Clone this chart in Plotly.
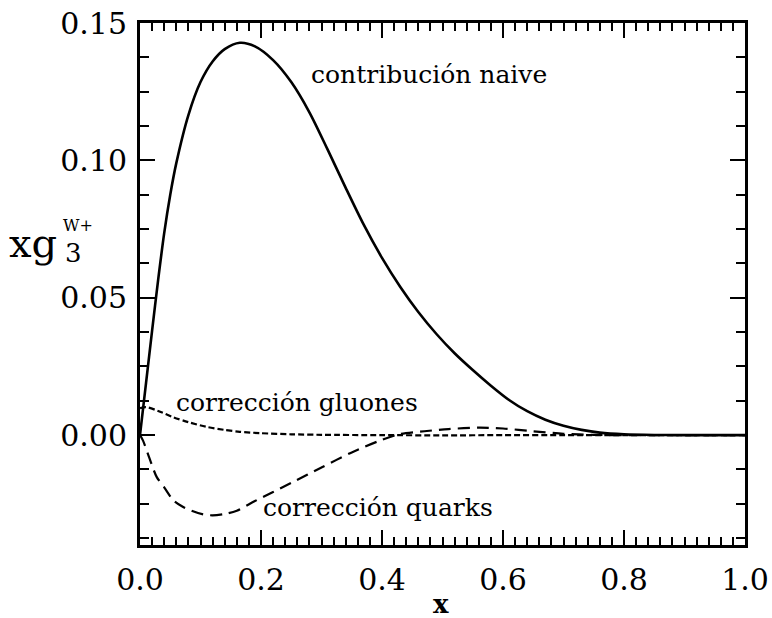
import plotly.graph_objects as go

# ---- data ----
naive_x = [0, 0.01, 0.02, 0.03, 0.04, 0.05, 0.06, 0.08, 0.10, 0.12, 0.14, 0.165, 0.19,
           0.22, 0.25, 0.28, 0.31, 0.34, 0.37, 0.40, 0.43, 0.46, 0.49, 0.52, 0.55, 0.58,
           0.61, 0.64, 0.67, 0.70, 0.73, 0.76, 0.80, 0.85, 0.90, 0.95, 1.0]
naive_y = [0, 0.019, 0.038, 0.0565, 0.0735, 0.0875, 0.0990, 0.1165, 0.1285, 0.1360,
           0.1405, 0.1428, 0.1415, 0.1365, 0.1285, 0.1175, 0.1040, 0.0900, 0.0765,
           0.0645, 0.0540, 0.0448, 0.0368, 0.0298, 0.0237, 0.0180, 0.0128, 0.0087,
           0.0056, 0.0034, 0.0019, 0.0009, 0.0003, 0.00005, 0, 0, 0]

gluon_x = [0, 0.01, 0.03, 0.055, 0.08, 0.11, 0.14, 0.165, 0.20, 0.25, 0.30, 0.40, 0.50,
           0.60, 0.70, 0.80, 0.90, 1.0]
gluon_y = [0.0098, 0.0102, 0.0088, 0.0065, 0.0047, 0.0030, 0.0019, 0.0012, 0.0007,
           0.0003, 0.0001, 0.0, -0.0001, 0.0, 0.0, 0.0, 0.0, 0.0]

quark_x = [0, 0.005, 0.015, 0.0275, 0.04, 0.055, 0.07, 0.085, 0.105, 0.12, 0.14, 0.16,
           0.19, 0.22, 0.25, 0.30, 0.35, 0.40, 0.43, 0.47, 0.51, 0.56, 0.60, 0.65, 0.70,
           0.75, 0.80, 0.90, 1.0]
quark_y = [0, -0.002, -0.008, -0.0152, -0.019, -0.0237, -0.026, -0.0275, -0.0289,
           -0.0292, -0.0287, -0.0275, -0.024, -0.0207, -0.0174, -0.0118, -0.0063,
           -0.0017, 0.0004, 0.0014, 0.0022, 0.0027, 0.0024, 0.0014, 0.0005, 0.0001,
           0, 0, 0]

x_ticks = [0.0, 0.2, 0.4, 0.6, 0.8, 1.0]
x_tick_labels = ["0.0", "0.2", "0.4", "0.6", "0.8", "1.0"]
y_ticks = [0.0, 0.05, 0.10, 0.15]
y_tick_labels = ["0.00", "0.05", "0.10", "0.15"]

label_naive = "contribución naive"
label_gluon = "corrección gluones"
label_quark = "corrección quarks"

FONT = "DejaVu Serif"

fig = go.Figure()
fig.add_trace(go.Scatter(x=naive_x, y=naive_y, mode="lines", line=dict(color="black", width=2.6, shape="spline", smoothing=0.8)))
fig.add_trace(go.Scatter(x=gluon_x, y=gluon_y, mode="lines", line=dict(color="black", width=2.2, dash="6px,3px", shape="spline", smoothing=0.8)))
fig.add_trace(go.Scatter(x=quark_x, y=quark_y, mode="lines", line=dict(color="black", width=2.2, dash="12px,7px", shape="spline", smoothing=0.8)))

W, H = 772, 618
L, R, T, B = 140, 27, 23, 73
pw, ph = W - L - R, H - T - B

def px(x):
    return (x - L) / pw

def py(y):
    return (H - B - y) / ph

annots = [
    dict(text=label_naive, x=px(309), y=py(74), size=25),
    dict(text=label_gluon, x=px(174), y=py(402), size=25),
    dict(text=label_quark, x=px(261), y=py(507), size=25),
    dict(text="xg", x=px(7), y=py(243), size=40),
    dict(text="3", x=px(63), y=py(253), size=26),
    dict(text="W+", x=px(61), y=py(226), size=16),
]
for a in annots:
    fig.add_annotation(text=a["text"], x=a["x"], y=a["y"], xref="paper", yref="paper",
                       xanchor="left", yanchor="middle", showarrow=False,
                       font=dict(family=FONT, size=a["size"], color="black"))
fig.add_annotation(text="<b>x</b>", x=px(441), y=py(604), xref="paper", yref="paper",
                   xanchor="center", yanchor="middle", showarrow=False,
                   font=dict(family=FONT, size=26, color="black"))

axis_common = dict(showline=True, linecolor="black", linewidth=3, mirror="allticks",
                   ticks="inside", tickcolor="black", tickwidth=2, ticklen=15,
                   showgrid=False, zeroline=False, automargin=False,
                   tickfont=dict(family=FONT, size=30, color="black"))

fig.update_xaxes(range=[0, 1], tickvals=x_ticks, ticktext=x_tick_labels,
                 ticklabelstandoff=6,
                 minor=dict(dtick=0.02, ticks="inside", ticklen=8, tickwidth=1.5, tickcolor="black", showgrid=False),
                 **axis_common)
fig.update_yaxes(range=[-0.04, 0.15], tickvals=y_ticks, ticktext=y_tick_labels,
                 ticklabelstandoff=4,
                 minor=dict(dtick=0.0125, tick0=0, ticks="inside", ticklen=9, tickwidth=1.5, tickcolor="black", showgrid=False),
                 **axis_common)

fig.update_layout(width=W, height=H, margin=dict(l=L, r=R, t=T, b=B, autoexpand=False),
                  paper_bgcolor="white", plot_bgcolor="white", showlegend=False)

fig.write_html("out.html")
